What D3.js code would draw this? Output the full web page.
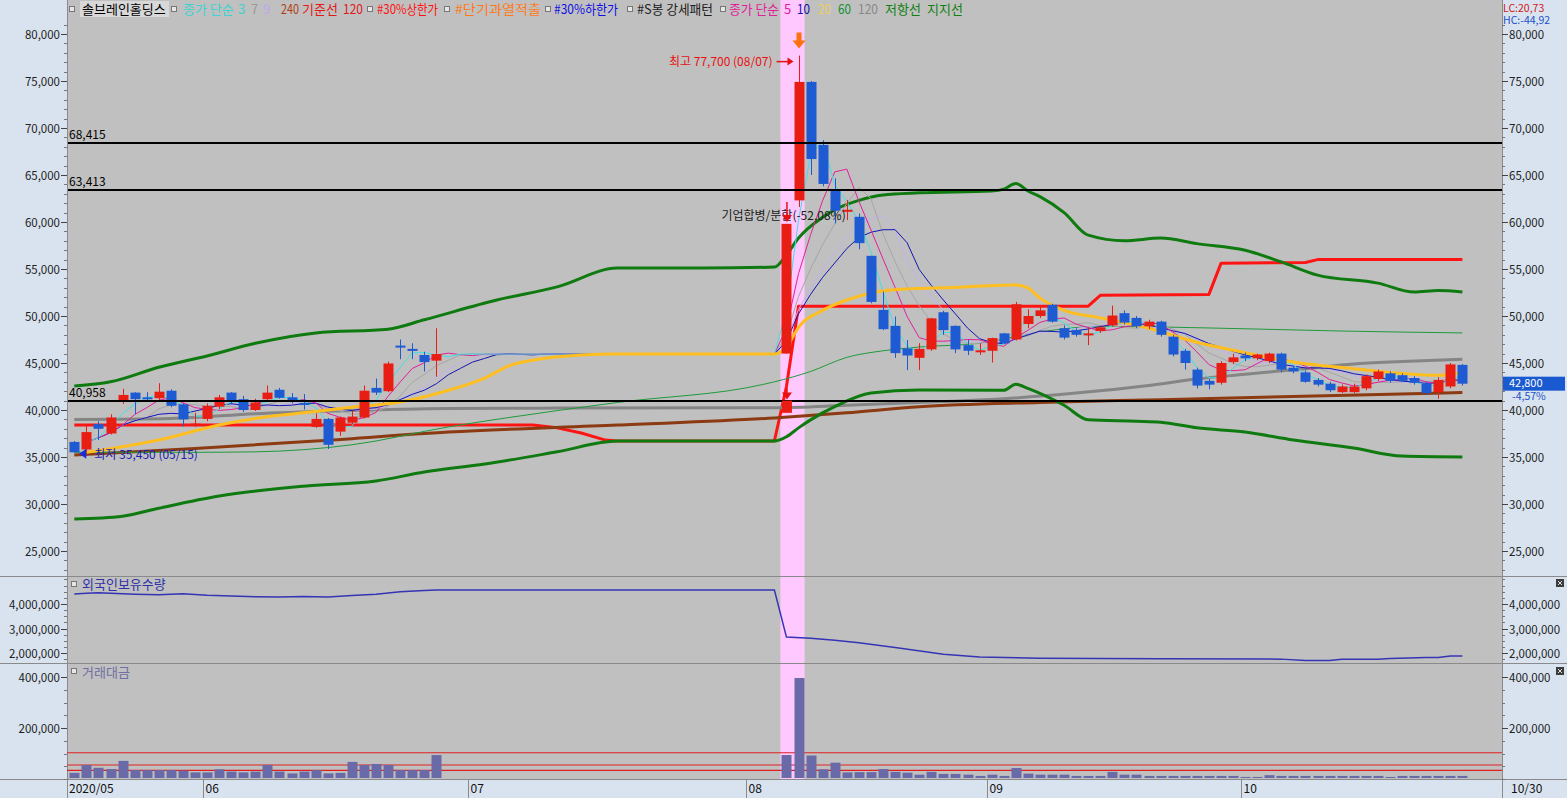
<!DOCTYPE html>
<html><head><meta charset="utf-8">
<script src="https://cdn.jsdelivr.net/npm/d3@7"></script>
<style>body{margin:0;background:#fff}svg{display:block}text{font-family:"Noto Sans CJK KR","Noto Sans",sans-serif}</style>
</head><body><svg id="c" width="1567" height="798"></svg>
<script>
// ---------- DATA ----------
const allDays = [
"05/15","05/18","05/19","05/20","05/21","05/22","05/25","05/26","05/27","05/28","05/29",
"06/01","06/02","06/03","06/04","06/05","06/08","06/09","06/10","06/11","06/12","06/15","06/16","06/17","06/18","06/19","06/22","06/23","06/24","06/25","06/26","06/29","06/30",
"07/01","07/02","07/03","07/06","07/07","07/08","07/09","07/10","07/13","07/14","07/15","07/16","07/17","07/20","07/21","07/22","07/23","07/24","07/27","07/28","07/29","07/30","07/31",
"08/03","08/04","08/05","08/06","08/07","08/10","08/11","08/12","08/13","08/14","08/18","08/19","08/20","08/21","08/24","08/25","08/26","08/27","08/28","08/31",
"09/01","09/02","09/03","09/04","09/07","09/08","09/09","09/10","09/11","09/14","09/15","09/16","09/17","09/18","09/21","09/22","09/23","09/24","09/25","09/28","09/29",
"10/05","10/06","10/07","10/08","10/12","10/13","10/14","10/15","10/16","10/19","10/20","10/21","10/22","10/23","10/26","10/27","10/28","10/29","10/30"];

const candleDates = [
"05/15","05/18","05/19","05/20","05/21","05/22","05/25","05/26","05/27","05/28","05/29",
"06/01","06/02","06/03","06/04","06/05","06/08","06/09","06/10","06/11","06/12","06/15","06/16","06/17","06/18","06/19","06/22","06/23","06/24","06/25","06/26",
"08/06","08/07","08/10","08/11","08/12","08/13","08/14","08/18","08/19","08/20","08/21","08/24","08/25","08/26","08/27","08/28","08/31",
"09/01","09/02","09/03","09/04","09/07","09/08","09/09","09/10","09/11","09/14","09/15","09/16","09/17","09/18","09/21","09/22","09/23","09/24","09/25","09/28","09/29",
"10/05","10/06","10/07","10/08","10/12","10/13","10/14","10/15","10/16","10/19","10/20","10/21","10/22","10/23","10/26","10/27","10/28","10/29","10/30"];
const opens = [36600,35800,38500,37500,40950,41850,41350,41250,42050,40600,38500,
39050,40350,41850,41150,40000,41150,42150,41350,40750,38200,39050,37700,38650,39200,42350,42000,46850,46500,45850,45250,
46000,62300,74900,68200,63300,61200,60550,56400,50650,48950,46550,45550,46450,50400,48950,46900,46300,
46300,48150,47500,49150,50000,51200,48700,48500,48000,48400,49000,50300,49800,48900,49400,47800,46300,44300,43100,42900,45100,
45800,45500,45200,46000,44500,44000,43200,42800,41900,41900,42300,43300,43900,43700,43400,42800,41900,42500,44800];
const highs = [36700,38300,38800,39550,42250,41900,41900,42850,42200,40700,39700,
40700,41600,41900,41500,41200,42600,42350,41800,41700,39650,39150,39300,39950,42600,43350,45150,47500,47100,46200,48700,
59800,77700,75000,68700,64650,62350,60900,56400,52600,49950,47450,47100,49800,50550,49000,47450,47100,
47700,48200,51500,50700,51000,51300,49000,48700,48800,49000,51100,50600,50000,49600,49500,48000,46500,44500,43300,45200,46000,
46100,46000,46100,46100,44700,44200,43400,43000,42700,42800,43800,44300,44100,43900,43600,43000,43500,45000,44900];
const lows = [35450,35500,36800,37400,40650,39550,40850,41050,40300,38250,38200,
38800,40100,40600,39800,39900,41000,41200,40700,40050,38100,35850,37250,38500,39100,41600,41900,45400,45400,44100,43550,
46000,61600,65000,63800,59850,60200,57100,51350,48500,45550,44250,44250,46300,48000,46050,45850,45850,
45050,47000,47400,48700,49800,49300,47500,47800,46900,48200,48900,49100,48700,48600,47800,45700,44300,42300,42200,42700,44900,
45200,45300,45000,44000,43900,42900,42500,41900,41800,41800,42100,43100,42900,43000,42700,41600,41200,42300,42600];
const closes = [35500,37650,38000,39200,41600,41150,41300,41950,40450,39000,38550,
40450,41350,40900,40000,40800,41850,41300,40900,40700,39050,36300,39200,39300,42050,41850,44950,46800,46450,45100,45950,
59800,74900,66700,64050,61200,61300,57750,51500,48600,46050,45800,46500,49750,48500,46450,46300,46350,
47650,47100,51250,50000,50600,49400,47700,48000,48150,48800,50050,49300,48900,49400,48000,45900,45000,42600,42700,45000,45600,
45500,45900,46000,44300,44100,43000,42700,42100,42500,42500,43600,44100,43100,43100,42900,41800,43200,44850,42800];
// 거래대금 (백만원)
const tradeValue = [24000,55000,44000,39000,71000,35000,35000,35000,35000,33000,26000,
26000,38000,29000,26000,29000,55000,29000,22000,29000,35000,22000,24000,67000,55000,59000,55000,35000,35000,35000,94000,
94000,396000,92000,38000,64000,26000,27000,27000,39000,28000,25000,17000,28000,20000,20000,17000,12000,
17000,12000,43000,21000,17000,17000,17000,12000,12000,12000,28000,17000,17000,12000,12000,12000,12000,12000,12000,12000,12000,
8000,8000,15000,12000,12000,12000,12000,12000,12000,12000,12000,12000,8000,12000,12000,12000,12000,12000,12000];

// 외국인보유수량 (read at sample days; index into allDays)
const foreignIdx = [0,1,2,3,5,7,9,11,13,15,17,19,21,23,25,27,29,30,58,59,61,63,65,68,72,75,80,90,100,102,104,105,108,109,112,113,114,115];
const foreignVal = [4.41,4.44,4.46,4.44,4.40,4.38,4.42,4.36,4.33,4.30,4.29,4.31,4.29,4.35,4.40,4.50,4.55,4.57,4.57,2.65,2.60,2.52,2.42,2.22,1.95,1.84,1.79,1.77,1.75,1.69,1.69,1.74,1.74,1.78,1.82,1.82,1.88,1.88].map(v=>v*1e6);

// long-period overlays (index into allDays, value)
const ma20Idx = [1,4,7,12,15,19,23,27,31,34,36,39,42,45,58,59,60,62,64,66,68,72,78,79,80,82,85,89,93,97,101,106,110,113,115];
const ma20Val = [35500,36100,36800,38400,39100,39700,40300,40850,42100,43400,44700,45500,45850,45950,45950,46700,48800,50600,51700,52450,52800,53000,53300,53000,51900,50600,49800,48700,47200,46100,45100,44400,43900,43700,44000];
const ma60Idx = [0,10,15,23,31,36,45,57,58,61,64,67,70,75,80,85,95,105,115];
const ma60Val = [35500,35500,35550,36300,38200,39200,40800,42700,43000,44100,45600,46300,46700,47100,48300,48900,48700,48400,48200];
const ma120Idx = [0,8,15,22,31,40,58,64,72,77,83,89,93,97,102,106,110,115];
const ma120Val = [39000,39100,39600,39900,40150,40200,40250,40500,40900,41200,41800,42600,43300,43800,44400,44900,45150,45400];
const ma240Idx = [0,10,20,31,45,58,64,70,80,90,100,115];
const ma240Val = [35200,35900,36700,37650,38400,39150,39700,40350,40800,41100,41400,41850];
const baseIdx = [0,38,40,42,44,45,58,59,60,84,85,94,95,102,103,115];
const baseVal = [38400,38400,38100,37550,36800,36700,36700,42500,51050,51050,52200,52300,55600,55700,56000,56000];
const resistIdx = [0,3,7,11,15,20,26,29,35,40,45,52,58,59,60,62,63,65,67,70,76,77,78,79,80,82,84,87,90,93,97,100,103,108,111,113,115];
const resistVal = [42550,43000,44550,45750,47100,48200,48600,49600,51700,53100,55100,55100,55200,56500,58300,60500,61300,62300,62870,63100,63300,63500,64100,63300,62700,61000,58600,58000,58300,57700,57000,55750,54350,53500,52550,52700,52550];
const supportIdx = [0,4,7,12,19,25,29,34,40,45,58,59,60,61,63,66,70,77,78,79,82,84,88,90,93,97,101,106,110,115];
const supportVal = [28400,28700,29550,30850,31900,32450,33400,34250,35550,36700,36700,37150,38100,38950,40350,41800,42130,42100,42750,42300,40500,38950,38800,38700,38100,37650,36800,35950,35100,35000];

const refLines = [68415, 63413, 40958];
const volRefLines = [103000, 55000, 34000];
const priceTicks = [25000,30000,35000,40000,45000,50000,55000,60000,65000,70000,75000,80000];
const foreignTicks = [2000000,3000000,4000000];
const volTicks = [200000,400000];
const monthStarts = ["06/01","07/01","08/03","09/01","10/05"];
const monthLabels = ["06","07","08","09","10"];
const eventDays = ["08/06","08/07"];
const splitMarker = {day:"08/06", top:41000, bottom:39700};

// ---------- LAYOUT ----------
const W=1567,H=798,PL=67,PR=1502;
const NUMFONT='"Liberation Sans", Arial, sans-serif';
const svg=d3.select('#c');
const x=d3.scalePoint().domain(allDays).range([74.3,1462.4]);
const step=x.step();
const y=d3.scaleLinear().domain([25000,80000]).range([551,34]);
const yF=d3.scaleLinear().domain([2e6,4e6]).range([653,604]);
const yV=d3.scaleLinear().domain([0,400000]).range([779,677]);
const fmt=d3.format(",");
const RED='#e81e14', BLUE='#1e5ad2';

svg.append('rect').attr('width',W).attr('height',H).attr('fill','#d9e3ef');
[[0,576],[577,663],[664,779]].forEach(([a,b])=>svg.append('rect').attr('x',PL).attr('y',a).attr('width',PR-PL).attr('height',b-a).attr('fill','#c0c0c0'));

// event band
const bx0=x(eventDays[0])-step/2, bx1=x(eventDays[1])+step/2;
svg.append('rect').attr('x',bx0).attr('y',0).attr('width',bx1-bx0).attr('height',779).attr('fill','#ffc8ff');

// separators
[576.5,663.5,779.5].forEach(v=>svg.append('line').attr('x1',0).attr('x2',W).attr('y1',v).attr('y2',v).attr('stroke','#8a8a8a'));
[PL+0.5,PR+0.5].forEach(v=>svg.append('line').attr('x1',v).attr('x2',v).attr('y1',0).attr('y2',H).attr('stroke','#8a8a8a'));

const defs=svg.append('defs');
defs.append('clipPath').attr('id','cm').append('rect').attr('x',PL+1).attr('y',0).attr('width',PR-PL-1).attr('height',576);
const gMain=svg.append('g').attr('clip-path','url(#cm)');

// axes helper
function axis(scale, ticks, minorStep, lo, hi){
  const g=svg.append('g').attr('font-size',11.5).attr('font-family',NUMFONT).attr('fill','#222');
  for(let v=lo; v<=hi; v+=minorStep){
    const yy=Math.round(scale(v))+0.5;
    g.append('line').attr('x1',PL-3).attr('x2',PL).attr('y1',yy).attr('y2',yy).attr('stroke','#777');
    g.append('line').attr('x1',PR).attr('x2',PR+3).attr('y1',yy).attr('y2',yy).attr('stroke','#777');
  }
  ticks.forEach(v=>{
    const yy=Math.round(scale(v))+0.5;
    g.append('line').attr('x1',PL-6).attr('x2',PL).attr('y1',yy).attr('y2',yy).attr('stroke','#444');
    g.append('line').attr('x1',PR).attr('x2',PR+6).attr('y1',yy).attr('y2',yy).attr('stroke','#444');
    g.append('text').attr('x',PL-7).attr('y',yy+4).attr('text-anchor','end').text(fmt(v));
    g.append('text').attr('x',PR+7).attr('y',yy+4).text(fmt(v));
  });
}
axis(y, priceTicks, 1000, 22000, 81000);
axis(yF, foreignTicks, 250000, 1750000, 4750000);
axis(yV, volTicks, 50000, 0, 400000);

// overlay lines
const lineFrom=(idx,val,sc,curve)=>d3.line().curve(curve||d3.curveMonotoneX).x((d,i)=>x(allDays[idx[i]])).y(d=>sc(d))(val);
function drawLine(g,idx,val,color,w,curve){
  g.append('path').attr('d',lineFrom(idx,val,y,curve)).attr('fill','none').attr('stroke',color).attr('stroke-width',w).attr('stroke-linejoin','round');
}
drawLine(gMain,baseIdx,baseVal,'#ff1414',3,d3.curveLinear);
drawLine(gMain,ma240Idx,ma240Val,'#8c3a12',3);
drawLine(gMain,ma120Idx,ma120Val,'#858585',3);
drawLine(gMain,resistIdx,resistVal,'#0f7a0f',3);
drawLine(gMain,supportIdx,supportVal,'#0f7a0f',3);
drawLine(gMain,ma60Idx,ma60Val,'#1f9a3a',1);

// short moving averages computed from closes (halt days carry last close)
const closeMap=new Map(candleDates.map((d,i)=>[d,closes[i]]));
let last=null; const filled=allDays.map(d=>{ if(closeMap.has(d)) last=closeMap.get(d); return last; });
function ma(n){ return filled.map((v,i)=>d3.mean(filled.slice(Math.max(0,i-n+1),i+1))); }
[[9,'#c4b0ee'],[7,'#a6a6a6'],[10,'#1414b4'],[5,'#e0209a'],[3,'#3ee0e6']].forEach(([n,c])=>{
  const m=ma(n);
  const pts=m.map((v,i)=>[i,v]).filter(p=>p[0]>=1);
  gMain.append('path').attr('d',d3.line().x(p=>x(allDays[p[0]])).y(p=>y(p[1]))(pts)).attr('fill','none').attr('stroke',c).attr('stroke-width',1);
});
drawLine(gMain,ma20Idx,ma20Val,'#ffbe20',3);

// candles
const cw=10;
candleDates.forEach((d,i)=>{
  const cx=Math.round(x(d)), up=closes[i]>=opens[i], col=up?RED:BLUE;
  gMain.append('line').attr('x1',cx+0.5).attr('x2',cx+0.5).attr('y1',y(highs[i])).attr('y2',y(lows[i])).attr('stroke',col).attr('stroke-width',1);
  const t=y(Math.max(opens[i],closes[i])), b=y(Math.min(opens[i],closes[i]));
  gMain.append('rect').attr('x',cx-cw/2+0.5).attr('y',t).attr('width',cw).attr('height',Math.max(2,b-t)).attr('fill',col);
});

// reference lines
refLines.forEach(v=>{
  gMain.append('line').attr('x1',PL).attr('x2',PR).attr('y1',y(v)).attr('y2',y(v)).attr('stroke','#000').attr('stroke-width',2);
  gMain.append('text').attr('x',PL+2).attr('y',y(v)-4).attr('font-size',12).attr('fill','#000').text(fmt(v));
});

// annotations
const hiI=highs.indexOf(d3.max(highs)), loI=lows.indexOf(d3.min(lows));
const hx=x(candleDates[hiI]), hy=y(highs[hiI]);
gMain.append('text').attr('x',hx-26).attr('y',hy+10).attr('text-anchor','end').attr('font-size',12).attr('fill','#e81010').text(`최고 ${fmt(highs[hiI])} (${candleDates[hiI]})`);
gMain.append('line').attr('x1',hx-22).attr('x2',hx-9).attr('y1',hy+6).attr('y2',hy+6).attr('stroke','#e81010').attr('stroke-width',1.5);
gMain.append('path').attr('d',`M${hx-5},${hy+6} L${hx-11},${hy+2} L${hx-11},${hy+10} Z`).attr('fill','#e81010');
gMain.append('path').attr('d',`M${hx-2},${hy-23} h5 v8 h4 l-6.5,8 l-6.5,-8 h4 z`).attr('fill','#ff7010');
const lx=x(candleDates[loI]), ly=y(lows[loI]);
gMain.append('path').attr('d',`M${lx+5},${ly+1} L${lx+12},${ly-4} L${lx+12},${ly+6} Z`).attr('fill','#1a2adc');
gMain.append('text').attr('x',lx+20).attr('y',ly+6).attr('font-size',12).attr('fill','#2020b0').text(`최저 ${fmt(lows[loI])} (${candleDates[loI]})`);
const sx=x(splitMarker.day);
gMain.append('text').attr('x',sx-65).attr('y',y(60200)).attr('font-size',12).attr('fill','#202020').text('기업합병/분할(-52,08%)');
function downArrow(cx,yTop,yTip){
  gMain.append('line').attr('x1',cx).attr('x2',cx).attr('y1',yTop).attr('y2',yTip-6).attr('stroke','#e81010').attr('stroke-width',1.5);
  gMain.append('path').attr('d',`M${cx-5},${yTip-7} L${cx+5},${yTip-7} L${cx},${yTip} Z`).attr('fill','#e81010');
}
const sIdx=candleDates.indexOf(splitMarker.day);
downArrow(sx+0.5, y(highs[sIdx])-22, y(highs[sIdx])-2);
gMain.append('rect').attr('x',sx-5+0.5).attr('y',y(splitMarker.top)).attr('width',10).attr('height',y(splitMarker.bottom)-y(splitMarker.top)).attr('fill',RED);
downArrow(sx+0.5, y(splitMarker.top)-12, y(splitMarker.top)-1);

// legend
const legend=[
 {x:69,box:1},{x:82,t:'솔브레인홀딩스',c:'#000',bg:1},{x:171,box:1},
 {x:183,t:'종가 단순',c:'#3ed2d2'},{x:238,t:'3',c:'#3ed2d2'},{x:251,t:'7',c:'#9a9a9a'},{x:263,t:'9',c:'#c0a8ec'},
 {x:281,t:'240',c:'#b04010',w:18},{x:302,t:'기준선',c:'#e01818'},{x:343,t:'120',c:'#e01818',w:20},{x:367,box:1},
 {x:377,t:'#30%상한가',c:'#ff1010',w:61},{x:444,box:1},{x:455,t:'#단기과열적출',c:'#ff7a1a',w:86},{x:545,box:1},
 {x:554,t:'#30%하한가',c:'#1010e0',w:64},{x:627,box:1},{x:637,t:'#S봉 강세패턴',c:'#202020',w:76},{x:720,box:1},
 {x:729,t:'종가 단순',c:'#e0209a',w:50},{x:784,t:'5',c:'#e0209a'},{x:797,t:'10',c:'#1010b0',w:13},{x:818,t:'20',c:'#e8d060',w:13},
 {x:838,t:'60',c:'#109030',w:13},{x:858,t:'120',c:'#888',w:20},{x:885,t:'저항선',c:'#108010'},{x:927,t:'지지선',c:'#108010'}];
legend.forEach(l=>{
  if(l.box){svg.append('rect').attr('x',l.x+0.5).attr('y',6.5).attr('width',5).attr('height',5).attr('fill','#e6e6e6').attr('stroke','#777');return;}
  if(l.bg) svg.append('rect').attr('x',l.x-2).attr('y',1).attr('width',89).attr('height',16).attr('fill','#d8d8d8');
  const t=svg.append('text').attr('x',l.x).attr('y',14).attr('font-size',13).attr('fill',l.c).text(l.t);
  if(l.w) t.attr('textLength',l.w).attr('lengthAdjust','spacingAndGlyphs');
});
svg.append('text').attr('x',1503).attr('y',11.5).attr('font-size',10.5).attr('font-family',NUMFONT).attr('fill','#d01818').text('LC:20,73');
svg.append('text').attr('x',1503).attr('y',23.5).attr('font-size',10.5).attr('font-family',NUMFONT).attr('fill','#1a50c8').text('HC:-44,92');

// last price box
const lc=closes[closes.length-1], pc=closes[closes.length-2];
const pct=((lc/pc-1)*100).toFixed(2).replace('.',',');
svg.append('rect').attr('x',PR+1).attr('y',y(lc)-7).attr('width',62).attr('height',14).attr('fill','#1a5ad0');
svg.append('text').attr('x',PR+7).attr('y',y(lc)+3.5).attr('font-size',11).attr('font-family',NUMFONT).attr('fill','#fff').text(fmt(lc));
svg.append('text').attr('x',PR+10).attr('y',y(lc)+16.5).attr('font-size',10.5).attr('font-family',NUMFONT).attr('fill','#1a50c8').text(pct+'%');

// foreign panel
svg.append('path').attr('d',d3.line().x((d,i)=>x(allDays[foreignIdx[i]])).y(d=>yF(d))(foreignVal)).attr('fill','none').attr('stroke','#3434b4').attr('stroke-width',1.5);
svg.append('rect').attr('x',71.5).attr('y',581.5).attr('width',5).attr('height',5).attr('fill','#e6e6e6').attr('stroke','#777');
svg.append('text').attr('x',82).attr('y',589).attr('font-size',13).attr('fill','#3030a8').text('외국인보유수량');

// volume panel
volRefLines.forEach(v=>svg.append('line').attr('x1',PL).attr('x2',PR).attr('y1',yV(v)).attr('y2',yV(v)).attr('stroke','#e02020').attr('stroke-width',1.2));
candleDates.forEach((d,i)=>{
  const cx=Math.round(x(d));
  svg.append('rect').attr('x',cx-5+0.5).attr('y',yV(tradeValue[i])).attr('width',10).attr('height',yV(0)-yV(tradeValue[i])-1).attr('fill','#6a6aa8');
});
svg.append('rect').attr('x',71.5).attr('y',668.5).attr('width',5).attr('height',5).attr('fill','#e6e6e6').attr('stroke','#777');
svg.append('text').attr('x',82).attr('y',677).attr('font-size',13).attr('fill','#6e6ea4').text('거래대금');

// close icons
[579,667].forEach(v=>{svg.append('rect').attr('x',1556).attr('y',v).attr('width',8).attr('height',8).attr('fill','#3c3c3c');
 svg.append('path').attr('d',`M1558,${v+2}l4,4M1562,${v+2}l-4,4`).attr('stroke','#ddd').attr('stroke-width',1);});

// x axis
const gx=svg.append('g').attr('font-size',12).attr('fill','#111');
gx.append('text').attr('x',PL+2).attr('y',793).text('2020/05');
monthStarts.forEach((d,i)=>{
  const xx=Math.round(x(d)-step/2+1.5)+0.5;
  gx.append('line').attr('x1',xx).attr('x2',xx).attr('y1',780).attr('y2',798).attr('stroke','#8a8a8a');
  gx.append('text').attr('x',xx+2).attr('y',793).text(monthLabels[i]);
});
gx.append('text').attr('x',PR+9).attr('y',793).text(allDays[allDays.length-1]);
</script></body></html>
